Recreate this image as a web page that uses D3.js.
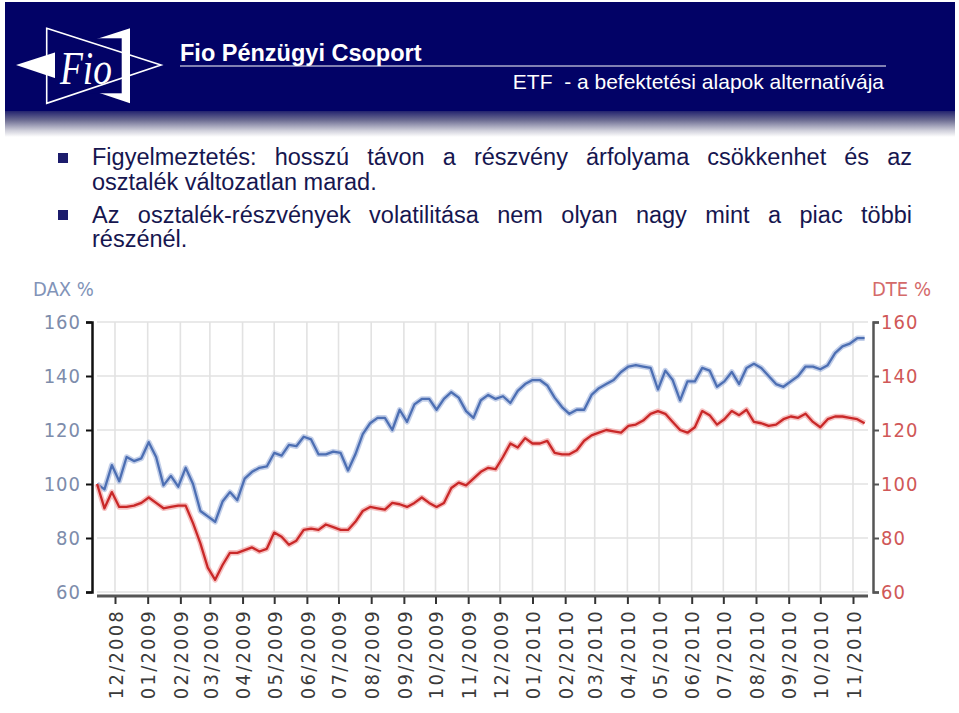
<!DOCTYPE html>
<html>
<head>
<meta charset="utf-8">
<script src="https://cdn.jsdelivr.net/npm/d3@7"></script>
<style>
  body { margin: 0; background: #fff; }
  svg { display: block; }
</style>
</head>
<body>
<div class="wrapper"></div>
<script>
// DAX and DTE, rebased to 100, weekly closes from mid-Nov 2008
const firstWeek = new Date(2008, 10, 14);

const dax = [100, 98, 107, 101, 110, 108.5, 109.5, 115.5, 110, 99.5, 103, 99, 106, 100, 90, 88,
  86, 93.5, 97, 94, 102, 104.5, 106, 106.5, 111.5, 110.5, 114.5, 114, 117.5, 116.5, 111, 111,
  112, 111.5, 105, 111, 118.5, 122.5, 124.5, 124.5, 120, 127.5, 123, 129.5, 131.5, 131.5, 127.5,
  131.5, 134, 132, 127, 124.5, 131, 133, 131.5, 132.5, 130, 134.5, 137, 138.5, 138.5, 136.5, 132,
  128.5, 126, 127.5, 127.5, 133, 135.5, 137, 138.5, 141.5, 143.5, 144, 143.5, 143, 135, 142,
  138.5, 131, 138, 138, 143, 142, 136, 138, 141.5, 137, 143, 144.5, 143, 140, 137, 136, 138,
  140, 143.5, 143.5, 142.5, 144, 148.5, 151, 152, 154, 154];

const dte = [100, 91, 97, 91.5, 91.5, 92, 93, 95, 93, 91, 91.5, 92, 92, 85.5, 78, 69,
  64.5, 70, 74.5, 74.5, 75.5, 76.5, 75, 76, 82, 80.5, 77.5, 79, 83, 83.5, 83, 85,
  84, 83, 83, 86, 90, 91.5, 91, 90.5, 93, 92.5, 91.5, 93, 95, 93, 91.5,
  93, 98.5, 100.5, 99.5, 102, 104.5, 106, 105.5, 110, 115, 113.5, 117, 115, 115, 116, 111.5,
  111, 111, 112.5, 116, 118, 119, 120, 119.5, 119, 121.5, 122, 123.5, 126, 127, 126,
  123, 120, 119, 121, 127, 125.5, 122, 124, 127, 125.5, 127.5, 123, 122.5, 121.5, 122, 124, 125,
  124.5, 126, 123, 121, 124, 125, 125, 124.5, 124, 122.5];

const yTicks = [60, 80, 100, 120, 140, 160];

const bulletLines = [
  ["Figyelmeztetés: hosszú távon a részvény árfolyama csökkenhet és az", true],
  ["osztalék változatlan marad.", false],
  ["Az osztalék-részvények volatilitása nem olyan nagy mint a piac többi", true],
  ["részénél.", false]
];

const navy = "#020266";
const chartFont = "'DejaVu Sans Condensed', 'DejaVu Sans', sans-serif";

let svg = d3.select(".wrapper").append("svg").attr("width", 959).attr("height", 713);

// ---- header band
let defs = svg.append("defs");
let grad = defs.append("linearGradient").attr("id", "fade").attr("x1", 0).attr("x2", 0).attr("y1", 0).attr("y2", 1);
grad.append("stop").attr("offset", "0%").attr("stop-color", "#23236f");
grad.append("stop").attr("offset", "35%").attr("stop-color", "#6c6c92");
grad.append("stop").attr("offset", "75%").attr("stop-color", "#cfcfda");
grad.append("stop").attr("offset", "100%").attr("stop-color", "#ffffff");

svg.append("rect").attr("x", 5).attr("y", 2).attr("width", 950).attr("height", 110).attr("fill", navy);
svg.append("rect").attr("x", 5).attr("y", 111).attr("width", 950).attr("height", 26).attr("fill", "url(#fade)");

// logo
svg.append("path").attr("d", "M16,65 L130,28.3 L130,103.3 Z").attr("fill", "#fff");
svg.append("rect").attr("x", 55).attr("y", 38.3).attr("width", 66.7).attr("height", 55).attr("fill", navy);
svg.append("path").attr("d", "M46.7,28.3 L161,65 L46.7,103.3 Z")
  .attr("fill", "none").attr("stroke", "#fff").attr("stroke-width", 1.6);
svg.append("text").attr("x", 60).attr("y", 84).text("Fio")
  .attr("fill", "#fff").attr("font-family", "'Liberation Serif', serif").attr("font-style", "italic")
  .attr("font-size", 46).attr("textLength", 52).attr("lengthAdjust", "spacingAndGlyphs");

svg.append("text").attr("x", 180).attr("y", 61).text("Fio Pénzügyi Csoport")
  .attr("fill", "#fff").attr("font-family", "'Liberation Sans', Arial, sans-serif")
  .attr("font-weight", "bold").attr("font-size", 23.5);
svg.append("line").attr("x1", 180).attr("x2", 886).attr("y1", 66).attr("y2", 66)
  .attr("stroke", "#fff").attr("stroke-width", 1);
svg.append("text").attr("x", 884).attr("y", 89).attr("text-anchor", "end")
  .attr("xml:space", "preserve").style("white-space", "pre")
  .text("ETF  - a befektetési alapok alternatívája")
  .attr("fill", "#fff").attr("font-family", "'Liberation Sans', Arial, sans-serif").attr("font-size", 21);

// ---- bullets, justified
let textLeft = 92, textRight = 912;
let baselines = [165, 190, 223, 247];
let body = svg.append("g").attr("fill", "#16164f")
  .attr("font-family", "'Liberation Sans', Arial, sans-serif").attr("font-size", 23.5);

bulletLines.forEach(([line, justify], k) => {
  let words = line.split(" ");
  let nodes = words.map(w => body.append("text").attr("y", baselines[k]).text(w));
  let widths = nodes.map(n => n.node().getComputedTextLength());
  let space = justify
    ? (textRight - textLeft - d3.sum(widths)) / (words.length - 1)
    : 6.5;
  let x = textLeft;
  nodes.forEach((n, i) => { n.attr("x", x); x += widths[i] + space; });
});
[158, 215].forEach(cy => {
  body.append("rect").attr("x", 58).attr("y", cy - 5).attr("width", 10).attr("height", 10).attr("fill", "#1c1c6c");
});

// ---- chart
let weeks = dax.map((d, i) => d3.timeDay.offset(firstWeek, 7 * i));

let x = d3.scaleTime()
  .domain([new Date(2008, 11, 1), new Date(2010, 10, 1)])
  .range([115, 853]);
let y = d3.scaleLinear().domain([60, 160]).range([592, 322]);

let months = d3.timeMonth.range(new Date(2008, 11, 1), new Date(2010, 10, 2));

let grid = svg.append("g").attr("stroke", "#e2e2e2").attr("stroke-width", 1.6);
grid.selectAll(".v").data(months).enter().append("line")
  .attr("x1", d => x(d)).attr("x2", d => x(d)).attr("y1", 322).attr("y2", 592);
grid.selectAll(".h").data(yTicks).enter().append("line")
  .attr("x1", 97).attr("x2", 868).attr("y1", d => y(d)).attr("y2", d => y(d));

// left axis
let left = svg.append("g").attr("transform", "translate(92,0)")
  .call(d3.axisLeft(y).tickValues(yTicks).tickSize(6).tickPadding(5));
left.select(".domain").attr("stroke", "#111").attr("stroke-width", 2.5);
left.selectAll(".tick line").attr("stroke", "#111").attr("stroke-width", 2);
left.selectAll("text").attr("fill", "#7d8cab").attr("font-family", chartFont)
  .attr("font-size", 20).attr("letter-spacing", 1);

// right axis
let right = svg.append("g").attr("transform", "translate(873,0)")
  .call(d3.axisRight(y).tickValues(yTicks).tickSize(6).tickPadding(2));
right.select(".domain").attr("stroke", "#555").attr("stroke-width", 2.5);
right.selectAll(".tick line").attr("stroke", "#555").attr("stroke-width", 2);
right.selectAll("text").attr("fill", "#d05858").attr("font-family", chartFont)
  .attr("font-size", 20).attr("letter-spacing", 1);

svg.append("text").attr("x", 33).attr("y", 296).text("DAX %")
  .attr("fill", "#8193b8").attr("font-family", chartFont).attr("font-size", 20);
svg.append("text").attr("x", 872).attr("y", 296).text("DTE %")
  .attr("fill", "#d46a6a").attr("font-family", chartFont).attr("font-size", 20);

// bottom axis
svg.append("line").attr("x1", 97).attr("x2", 868).attr("y1", 596).attr("y2", 596)
  .attr("stroke", "#555").attr("stroke-width", 3);
let bottom = svg.append("g").attr("transform", "translate(0,597)")
  .call(d3.axisBottom(x).tickValues(months).tickSize(7).tickFormat(d3.timeFormat("%m/%Y")));
bottom.select(".domain").remove();
bottom.selectAll(".tick line").attr("stroke", "#333").attr("stroke-width", 2);
bottom.selectAll("text")
  .attr("transform", "rotate(-90)")
  .attr("text-anchor", "end")
  .attr("x", -12).attr("y", 0).attr("dy", "0.36em")
  .attr("fill", "#3a3a3a").attr("font-family", chartFont)
  .attr("font-size", 20).attr("letter-spacing", 2.2);

// series
let line = d3.line().x((d, i) => x(weeks[i])).y(d => y(d));

[[dax, "#4d6fb3", "#a9bbe0"], [dte, "#c92828", "#f2a6a6"]].forEach(([data, col, halo]) => {
  svg.append("path").datum(data).attr("d", line)
    .attr("fill", "none").attr("stroke", halo).attr("stroke-width", 5.5)
    .attr("stroke-linejoin", "round").attr("opacity", 0.7);
  svg.append("path").datum(data).attr("d", line)
    .attr("fill", "none").attr("stroke", col).attr("stroke-width", 2.3)
    .attr("stroke-linejoin", "round");
});
</script>
</body>
</html>
